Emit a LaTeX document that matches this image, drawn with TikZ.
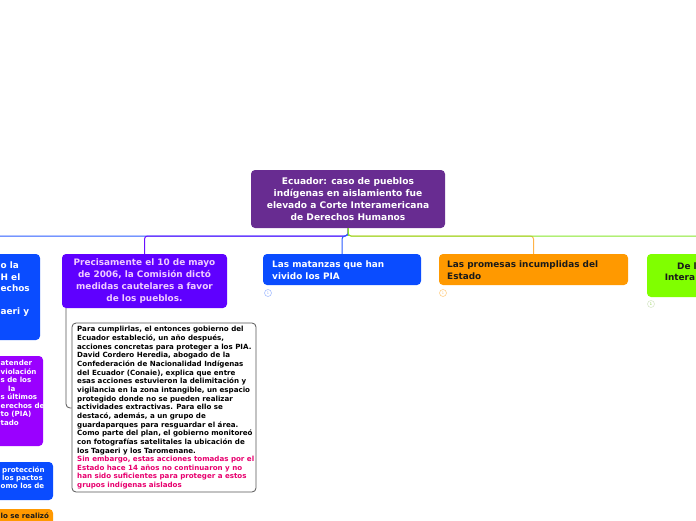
\documentclass[tikz,border=0pt]{standalone}
\usepackage{fontspec}
\setmainfont{DejaVu Sans}
\definecolor{rootc}{HTML}{682C91}
\definecolor{purplec}{HTML}{5F00FF}
\definecolor{lavtext}{HTML}{F0CCFF}
\definecolor{bluec}{HTML}{0A4CFF}
\definecolor{orangec}{HTML}{FF9900}
\definecolor{greenc}{HTML}{80FF00}
\definecolor{violetc}{HTML}{9A00FF}
\definecolor{bluelin}{HTML}{2A5BFF}
\definecolor{purplelin}{HTML}{6A10FF}
\definecolor{greenlin}{HTML}{86E62A}
\definecolor{orangelin}{HTML}{FFB347}
\definecolor{pinktext}{HTML}{E8006F}
\definecolor{darktext}{HTML}{1A1A1A}
\definecolor{graylin}{HTML}{555555}
\begin{document}
\begin{tikzpicture}[x=1pt,y=-1pt,
  box/.style={rounded corners=4pt, inner sep=0pt, draw=none},
  big/.style={font=\bfseries\fontsize{8.9}{11.8}\selectfont},
  bigroot/.style={font=\bfseries\fontsize{9.1}{11.8}\selectfont},
  small/.style={font=\bfseries\fontsize{7.1}{8.65}\selectfont},
  frag/.style={anchor=base west, inner sep=0pt},
  conn/.style={line width=1pt, rounded corners=3pt},
  badge/.style={circle, draw, line width=0.6pt, inner sep=0pt, minimum size=7pt, fill=white, font=\fontsize{3.5}{4}\selectfont}]
\useasboundingbox (0,0) rectangle (696,520);

% nodes (boxes)
\node[box, fill=rootc, minimum width=194pt, minimum height=58pt, bigroot, text=white, align=center] (root) at (348,199)
  {Ecuador: caso de pueblos\\indígenas en aislamiento fue\\elevado a Corte Interamericana\\de Derechos Humanos};

\node[box, fill=purplec, minimum width=165pt, minimum height=54pt, big, text=lavtext, align=center] (prec) at (144.5,281)
  {Precisamente el 10 de mayo\\de 2006, la Comisión dictó\\medidas cautelares a favor\\de los pueblos.};

\node[box, fill=bluec, minimum width=158pt, minimum height=31pt] (mat) at (342,269.5) {};
\node[big, text=white, align=left, anchor=west, inner sep=0pt] (mattxt) at (272,270) {Las matanzas que han\\vivido los PIA};

\node[box, fill=orangec, minimum width=189pt, minimum height=31pt] (prom) at (533.5,269.5) {};
\node[big, text=darktext, align=left, anchor=west, inner sep=0pt] (promtxt) at (447,270) {Las promesas incumplidas del\\Estado};

\node[box, fill=greenc, minimum width=190pt, minimum height=43pt] (green) at (742,275.5) {};
\node[big, text=darktext, frag] (gt1) at (677,269) {De l};
\node[big, text=darktext, anchor=base east, inner sep=0pt] (gt2) at (695.3,280.5) {Intera};

% left side boxes
\node[box, fill=bluec, minimum width=120pt, minimum height=86pt] (lb) at (-20,297) {};
\node[big, text=white, frag] (lb1) at (0.5,268.5) {o la};
\node[big, text=white, frag] (lb2) at (0.5,280) {H el};
\node[big, text=white, frag] (lb3) at (0.5,291.5) {echos};
\node[big, text=white, frag] (lb4) at (0.5,314.5) {aeri y};

\node[box, fill=violetc, minimum width=120pt, minimum height=90pt] (lv) at (-17,401) {};
\foreach \t/\xx/\yy [count=\i] in {atender/0.5/365.5, violación/0.5/374, s de los/0.5/382.5, la/8/391, s últimos/0.5/399.5, erechos de/0.5/408, to (PIA)/0.5/416.5, tado/0.5/425}
  \node[small, text=white, frag] (lv\i) at (\xx,\yy) {\t};

\node[box, fill=bluec, minimum width=120pt, minimum height=38pt] (lb5) at (-7,481) {};
\node[small, text=white, frag] (lb5a) at (2,472.5) {protección};
\node[small, text=white, frag] (lb5b) at (2,480.5) {los pactos};
\node[small, text=white, frag] (lb5c) at (0.5,488.5) {omo los de};

\node[box, fill=orangec, minimum width=120pt, minimum height=30pt] (lo) at (-7,524) {};
\node[small, text=darktext, frag] (loa) at (0.5,518) {lo se realizó};

% text box
\node[draw=graylin, line width=0.8pt, fill=white, rounded corners=4pt, minimum width=184pt, minimum height=169pt, inner sep=0pt] (tb) at (164,407.5) {};
\node[small, align=left, anchor=north west, inner sep=0pt] (tbtxt) at (77,326.3) {Para cumplirlas, el entonces gobierno del\\
Ecuador estableció, un año después,\\
acciones concretas para proteger a los PIA.\\
David Cordero Heredia, abogado de la\\
Confederación de Nacionalidad Indígenas\\
del Ecuador (Conaie), explica que entre\\
esas acciones estuvieron la delimitación y\\
vigilancia en la zona intangible, un espacio\\
protegido donde no se pueden realizar\\
actividades extractivas. Para ello se\\
destacó, además, a un grupo de\\
guardaparques para resguardar el área.\\
Como parte del plan, el gobierno monitoreó\\
con fotografías satelitales la ubicación de\\
los Tagaeri y los Taromenane.\\
\textcolor{pinktext}{Sin embargo, estas acciones tomadas por el}\\
\textcolor{pinktext}{Estado hace 14 años no continuaron y no}\\
\textcolor{pinktext}{han sido suficientes para proteger a estos}\\
\textcolor{pinktext}{grupos indígenas aislados}};

% badges
\node[badge, draw=bluec!35] (b1) at (268,293) {\textcolor{bluec!45}{1}};
\node[badge, draw=orangec!45] (b2) at (443,293) {\textcolor{orangec!55}{1}};
\node[badge, draw=greenc!55!black!20] (b3) at (651,304) {\textcolor{greenc!60!gray}{1}};

% connectors
\coordinate (farleft) at (-30,236);
\coordinate (farright) at (742,236);
\draw[conn, draw=bluelin] (root.south) -- (348,236) -- (farleft);
\draw[conn, draw=purplelin] (root.south) -- (348,236) -- (144.5,236) -- (prec.north);
\draw[conn, draw=bluelin] (root.south) -- (348,236) -- (342,236) -- (mat.north);
\draw[conn, draw=orangelin] (root.south) -- (348,236) -- (533.5,236) -- (prom.north);
\draw[conn, draw=greenlin] (root.south) -- (348,236) -- (farright) -- (green.north);
\draw[line width=1pt, draw=greenlin] (root.south) -- (348,236);
\draw[line width=0.8pt, draw=graylin, rounded corners=4pt] (66,308) -- (66,408) -- (tb.west |- 0,408);
\end{tikzpicture}
\end{document}
